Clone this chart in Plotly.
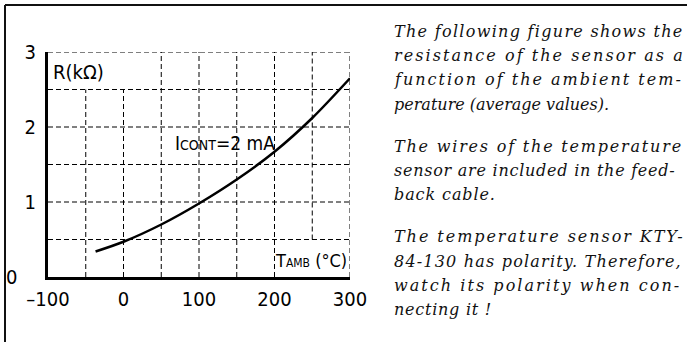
import plotly.graph_objects as go

# Figure size in pixels
W, H = 687, 342

# KTY84-130 resistance vs ambient temperature (average values)
temp_c = [-37, 0, 50, 100, 150, 200, 250, 300]
res_kohm = [0.34, 0.47, 0.70, 0.98, 1.30, 1.67, 2.12, 2.65]

# Axis ticks
x_tick_vals = [-100, 0, 100, 200, 300]
x_tick_text = ["\u2013100", "0", "100", "200", "300"]
y_tick_vals = [1, 2, 3]
y_tick_text = ["1", "2", "3"]

# Explanatory text beside the diagram, with the tracking used to set each line
paragraphs = [
    [("The following figure shows the", 1.3),
     ("resistance of the sensor as a", 2.05),
     ("function of the ambient tem-", 2.0),
     ("perature (average values).", 0.0)],
    [("The wires of the temperature", 1.8),
     ("sensor are included in the feed-", 0.75),
     ("back cable.", 0.9)],
    [("The temperature sensor KTY-", 1.95),
     ("84-130 has polarity. Therefore,", 1.2),
     ("watch its polarity when con-", 2.05),
     ("necting it !", 0.75)],
]

# Plot area in pixels (left, right, top, bottom)
PX0, PX1, PY0, PY1 = 48, 350, 52, 277

LABEL_FONT = "DejaVu Sans Condensed, Liberation Sans Narrow, Arial Narrow, sans-serif"
TEXT_FONT = "DejaVu Serif, Century Schoolbook, serif"

fig = go.Figure()
fig.add_trace(go.Scatter(
    x=temp_c, y=res_kohm, mode="lines",
    line=dict(color="black", width=2.5, shape="spline", smoothing=0.8),
    hoverinfo="skip", showlegend=False,
))

# Dashed grid drawn as segments so the label corners stay clear
dash = "5px,3px"
grid_style = dict(color="black", width=1, dash=dash)
shapes = []
for gx in [-50, 0, 50, 100, 150, 200, 250, 300]:
    y0, y1 = 0, 3
    if gx in (-50, 0):
        y1 = 2.5
    if gx == 250:
        y0 = 0.5
    shapes.append(dict(type="line", xref="x", yref="y", x0=gx, x1=gx, y0=y0, y1=y1,
                       line=grid_style, layer="below"))
for gy in [0.5, 1.0, 1.5, 2.0, 2.5, 3.0]:
    shapes.append(dict(type="line", xref="x", yref="y", x0=-100, x1=300, y0=gy, y1=gy,
                       line=grid_style, layer="below"))

# Frame around the page section
fx = 5 / W
fy = 1 - 5 / H
shapes.append(dict(type="line", xref="paper", yref="paper", x0=fx, x1=1.0, y0=fy, y1=fy,
                   line=dict(color="#111", width=2)))
shapes.append(dict(type="line", xref="paper", yref="paper", x0=fx, x1=fx, y0=0, y1=fy,
                   line=dict(color="#111", width=2)))

annotations = [
    dict(text="0", xref="paper", yref="y", x=11 / W, y=0, xanchor="center", yanchor="middle",
         showarrow=False, font=dict(family=LABEL_FONT, size=20, color="black")),
    dict(text="R(k\u03a9)", xref="x", yref="y", x=-100, y=2.73, xshift=3,
         xanchor="left", yanchor="middle", showarrow=False,
         font=dict(family=LABEL_FONT, size=20, color="black")),
    dict(text="I<span style='font-size:14px'>CONT</span>=2 mA", xref="x", yref="y",
         x=66, y=1.79, xanchor="left", yanchor="middle", showarrow=False,
         font=dict(family=LABEL_FONT, size=19, color="black")),
    dict(text="T<span style='font-size:12px'>AMB</span> (\u00b0C)", xref="x", yref="y",
         x=200, y=0.22, xshift=-2, xanchor="left", yanchor="middle", showarrow=False,
         font=dict(family=LABEL_FONT, size=18, color="black")),
]

# Right-hand text column
line_step = 24.4
para_gap = 17.5
cy = 31.0
for pi, para in enumerate(paragraphs):
    if pi > 0:
        cy += para_gap
    for line, track in para:
        annotations.append(dict(
            text="<span style='letter-spacing:%.2fpx'><i>%s</i></span>" % (track, line),
            xref="paper", yref="paper",
            x=392 / W, y=1 - cy / H, xanchor="left", yanchor="middle", showarrow=False,
            font=dict(family=TEXT_FONT, size=16, color="#111"),
        ))
        cy += line_step

fig.update_layout(
    width=W, height=H,
    margin=dict(l=0, r=0, t=0, b=0, autoexpand=False),
    paper_bgcolor="white", plot_bgcolor="white",
    shapes=shapes, annotations=annotations,
    xaxis=dict(
        domain=[PX0 / W, PX1 / W], range=[-100, 300], automargin=False,
        showgrid=False, zeroline=False, showline=True, linewidth=3, linecolor="black",
        ticks="", tickvals=x_tick_vals, ticktext=x_tick_text, ticklabelstandoff=2,
        tickfont=dict(family=LABEL_FONT, size=20, color="black"), fixedrange=True,
    ),
    yaxis=dict(
        domain=[1 - PY1 / H, 1 - PY0 / H], range=[0, 3], automargin=False,
        showgrid=False, zeroline=False, showline=True, linewidth=3, linecolor="black",
        ticks="", tickvals=y_tick_vals, ticktext=y_tick_text, ticklabelstandoff=5,
        tickfont=dict(family=LABEL_FONT, size=20, color="black"), fixedrange=True,
    ),
    showlegend=False,
)

fig.write_html("out.html", include_plotlyjs=True, config={"displayModeBar": False, "staticPlot": True})
